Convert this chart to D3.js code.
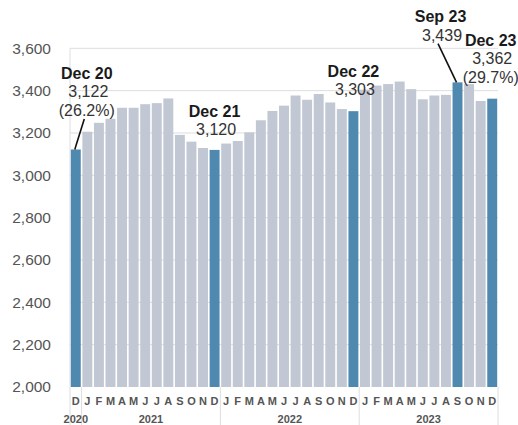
<!DOCTYPE html>
<html>
<head>
<meta charset="utf-8">
<script src="https://cdn.jsdelivr.net/npm/d3@7/dist/d3.min.js"></script>
<style>
  html, body { margin: 0; padding: 0; background: #fff; }
  svg { display: block; font-family: "Liberation Sans", Arial, sans-serif; }
</style>
</head>
<body>
<svg id="chart" width="518" height="425"></svg>
<script>
// ---- data ----
const monthLabels = ["D",
  "J","F","M","A","M","J","J","A","S","O","N","D",
  "J","F","M","A","M","J","J","A","S","O","N","D",
  "J","F","M","A","M","J","J","A","S","O","N","D"];
const yearOfBar = [2020,
  2021,2021,2021,2021,2021,2021,2021,2021,2021,2021,2021,2021,
  2022,2022,2022,2022,2022,2022,2022,2022,2022,2022,2022,2022,
  2023,2023,2023,2023,2023,2023,2023,2023,2023,2023,2023,2023];
const values = [3122,
  3206, 3248, 3267, 3319, 3319, 3336, 3341, 3363, 3191, 3159, 3129, 3120,
  3150, 3162, 3203, 3260, 3304, 3329, 3377, 3357, 3384, 3344, 3313, 3303,
  3405, 3424, 3431, 3443, 3407, 3359, 3377, 3380, 3439, 3431, 3351, 3362];
const highlighted = [0, 12, 24, 33, 36];
const years = [2020, 2021, 2022, 2023];
const yTicks = [2000, 2200, 2400, 2600, 2800, 3000, 3200, 3400, 3600];
const annotationIndex = [0, 12, 24, 33, 36];
const annotationTitle = ["Dec 20", "Dec 21", "Dec 22", "Sep 23", "Dec 23"];
const annotationValue = ["3,122", "3,120", "3,303", "3,439", "3,362"];
const annotationPct = ["(26.2%)", null, null, null, "(29.7%)"];

// ---- layout (positions/styles) ----
const annLayout = [
  {dx: 11, title: -70.5, leader: true},
  {dx: 0,  title: -33,   leader: false},
  {dx: 0,  title: -34,   leader: false},
  {dx: -17, title: -60,  leader: true},
  {dx: -1.5, title: -52.5, leader: false}
];
const lineGap = 18.3;

const svg = d3.select("#chart");
const idx = d3.range(values.length);

const x = d3.scaleBand().domain(idx).range([70, 498])
  .paddingInner(0.14).paddingOuter(0.07);
const y = d3.scaleLinear().domain([2000, 3600]).range([387, 48.3]);

const gridColor = "#dedede";
const lightBar = "#c1c8d3";
const darkBar = "#5089b0";

// gridlines
svg.append("g").selectAll("line").data(yTicks.filter(t => t > 2000)).join("line")
  .attr("x1", 70).attr("x2", 498)
  .attr("y1", d => y(d)).attr("y2", d => y(d))
  .attr("stroke", gridColor).attr("stroke-width", 1);

// y axis labels
const yAxis = d3.axisLeft(y).tickValues(yTicks).tickFormat(d3.format(",")).tickSize(0).tickPadding(0);
const gy = svg.append("g").attr("transform", "translate(51,0)").call(yAxis);
gy.select(".domain").remove();
gy.selectAll("text").attr("font-size", 15.5).attr("fill", "#555")
  .attr("font-family", "Liberation Sans, Arial, sans-serif");

// left vertical line
svg.append("line").attr("x1", 70).attr("x2", 70).attr("y1", 48.3).attr("y2", 425)
  .attr("stroke", gridColor).attr("stroke-width", 1);

// year separators
const step = x.step();
const gap = step * x.paddingInner();
const sepIdx = idx.filter(i => i > 0 && yearOfBar[i] !== yearOfBar[i - 1]);
svg.append("g").selectAll("line").data(sepIdx).join("line")
  .attr("x1", i => x(i) - gap / 2).attr("x2", i => x(i) - gap / 2)
  .attr("y1", 387).attr("y2", 425)
  .attr("stroke", gridColor).attr("stroke-width", 1);
svg.append("line").attr("x1", 498).attr("x2", 498).attr("y1", 387).attr("y2", 425)
  .attr("stroke", gridColor).attr("stroke-width", 1);

// bars
svg.append("g").selectAll("rect").data(idx).join("rect")
  .attr("x", i => x(i)).attr("width", x.bandwidth())
  .attr("y", i => y(values[i])).attr("height", i => y(2000) - y(values[i]))
  .attr("fill", i => highlighted.includes(i) ? darkBar : lightBar);

// month labels
svg.append("g").selectAll("text").data(idx).join("text")
  .attr("x", i => x(i) + x.bandwidth() / 2).attr("y", 405)
  .attr("text-anchor", "middle").attr("font-size", 11).attr("font-weight", "bold")
  .attr("fill", "#555").text(i => monthLabels[i]);

// year labels
svg.append("g").selectAll("text").data(years).join("text")
  .attr("x", yr => {
    const ii = idx.filter(i => yearOfBar[i] === yr);
    return (x(ii[0]) + x(ii[ii.length - 1]) + x.bandwidth()) / 2;
  })
  .attr("y", 423).attr("text-anchor", "middle").attr("font-size", 11)
  .attr("font-weight", "bold").attr("fill", "#555").text(yr => yr);

// annotations
annotationIndex.forEach((bi, k) => {
  const L = annLayout[k];
  const cx = x(bi) + x.bandwidth() / 2;
  const top = y(values[bi]);
  const tx = cx + L.dx;
  const g = svg.append("g");
  g.append("text").attr("x", tx).attr("y", top + L.title)
    .attr("text-anchor", "middle").attr("font-size", 16).attr("font-weight", "bold")
    .attr("fill", "#1a1a1a").text(annotationTitle[k]);
  g.append("text").attr("x", tx + 1.5).attr("y", top + L.title + lineGap)
    .attr("text-anchor", "middle").attr("font-size", 16)
    .attr("fill", "#333").text(annotationValue[k]);
  let lastBase = top + L.title + lineGap;
  if (annotationPct[k]) {
    lastBase = top + L.title + 2 * lineGap + 0.5;
    g.append("text").attr("x", tx).attr("y", lastBase)
      .attr("text-anchor", "middle").attr("font-size", 16)
      .attr("fill", "#333").text(annotationPct[k]);
  }
  if (L.leader) {
    g.append("line").attr("x1", tx - 2.5).attr("y1", lastBase + 3)
      .attr("x2", cx - 1).attr("y2", top)
      .attr("stroke", "#111").attr("stroke-width", 1.6);
  }
});
</script>
</body>
</html>
